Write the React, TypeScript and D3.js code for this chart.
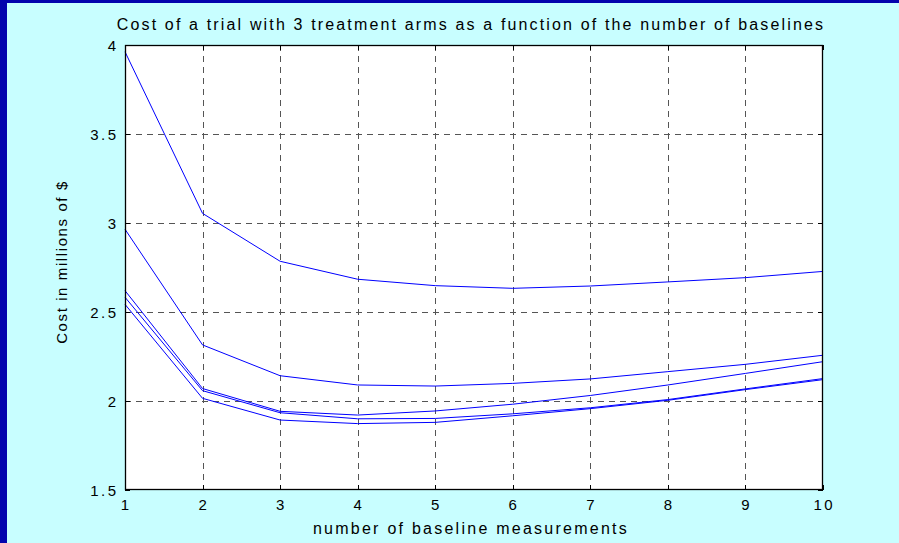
import React from "react";
import * as d3 from "d3";

const W = 899;
const H = 543;

const baselines = [1, 2, 3, 4, 5, 6, 7, 8, 9, 10];
const series1 = [3.962, 3.054, 2.785, 2.684, 2.648, 2.633, 2.646, 2.669, 2.693, 2.728];
const series2 = [2.965, 2.315, 2.142, 2.09, 2.084, 2.099, 2.124, 2.165, 2.206, 2.257];
const series3 = [2.62, 2.07, 1.942, 1.921, 1.944, 1.982, 2.031, 2.09, 2.155, 2.221];
const series4 = [2.583, 2.058, 1.934, 1.9, 1.902, 1.928, 1.962, 2.008, 2.068, 2.126];
const series5 = [2.543, 2.015, 1.893, 1.873, 1.88, 1.917, 1.957, 2.004, 2.064, 2.12];
const allSeries = [series1, series2, series3, series4, series5];

const xTicks = [1, 2, 3, 4, 5, 6, 7, 8, 9, 10];
const yTicks = [1.5, 2, 2.5, 3, 3.5, 4];
const yTickLabels = ["1.5", "2", "2.5", "3", "3.5", "4"];

const title = "Cost of a trial with 3 treatment arms as a function of the number of baselines";
const xLabel = "number of baseline measurements";
const yLabel = "Cost in millions of $";

const FONT = "'Liberation Sans', Arial, Helvetica, sans-serif";

export default function App() {
  const left = 125, right = 823, top = 45, bottom = 490;
  const x = d3.scaleLinear().domain([1, 10]).range([left, right]);
  const y = d3.scaleLinear().domain([1.5, 4]).range([bottom, top]);
  const line = d3
    .line<number>()
    .x((_, i) => x(baselines[i]))
    .y((d) => y(d));
  const tickLen = 5;
  const tickSp = 2.5;

  return (
    <div style={{ position: "absolute", left: 0, top: 0 }}>
      <svg width={W} height={H} style={{ display: "block" }}>
        <rect x={0} y={0} width={W} height={H} fill="#0303AD" />
        <rect x={7} y={3} width={W - 7} height={H - 3} fill="#C8FEFF" />
        <rect x={left} y={top} width={right - left} height={bottom - top} fill="#FFFFFF" />
        {/* grid */}
        {xTicks.slice(1, -1).map((t) => (
          <line
            key={"gx" + t}
            x1={Math.round(x(t)) + 0.5}
            x2={Math.round(x(t)) + 0.5}
            y1={top}
            y2={bottom}
            stroke="#555"
            strokeDasharray="6,5"
          />
        ))}
        {yTicks.slice(1, -1).map((t) => (
          <line
            key={"gy" + t}
            x1={left}
            x2={right}
            y1={Math.round(y(t)) + 0.5}
            y2={Math.round(y(t)) + 0.5}
            stroke="#555"
            strokeDasharray="6,5"
          />
        ))}
        {/* ticks */}
        {xTicks.map((t) => (
          <g key={"tx" + t} stroke="#000">
            <line x1={Math.round(x(t)) + 0.5} x2={Math.round(x(t)) + 0.5} y1={bottom} y2={bottom - tickLen} />
            <line x1={Math.round(x(t)) + 0.5} x2={Math.round(x(t)) + 0.5} y1={top} y2={top + tickLen} />
          </g>
        ))}
        {yTicks.map((t) => (
          <g key={"ty" + t} stroke="#000">
            <line x1={left} x2={left + tickLen} y1={Math.round(y(t)) + 0.5} y2={Math.round(y(t)) + 0.5} />
            <line x1={right} x2={right - tickLen} y1={Math.round(y(t)) + 0.5} y2={Math.round(y(t)) + 0.5} />
          </g>
        ))}
        {/* data lines */}
        {allSeries.map((s, i) => (
          <path key={"s" + i} d={line(s) || ""} fill="none" stroke="#0000FF" strokeWidth={1} />
        ))}
        {/* frame */}
        <rect
          x={left + 0.5}
          y={top + 0.5}
          width={right - left - 1}
          height={bottom - top - 1}
          fill="none"
          stroke="#000"
          strokeWidth={1.3}
        />
        {/* tick labels */}
        {xTicks.map((t) => (
          <text
            key={"lx" + t}
            x={x(t) + tickSp / 2}
            y={510}
            textAnchor="middle"
            fontFamily={FONT}
            fontSize={15}
            letterSpacing={tickSp}
            fill="#000"
          >
            {t}
          </text>
        ))}
        {yTicks.map((t, i) => (
          <text
            key={"ly" + t}
            x={116 + tickSp}
            y={y(t) + 5.5}
            textAnchor="end"
            fontFamily={FONT}
            fontSize={15}
            letterSpacing={tickSp}
            fill="#000"
          >
            {yTickLabels[i]}
          </text>
        ))}
        <text
          x={471}
          y={30}
          textAnchor="middle"
          fontFamily={FONT}
          fontSize={16}
          letterSpacing={2.15}
          fill="#000"
        >
          {title}
        </text>
        <text
          x={471}
          y={534}
          textAnchor="middle"
          fontFamily={FONT}
          fontSize={16}
          letterSpacing={2.25}
          fill="#000"
        >
          {xLabel}
        </text>
        <text
          transform={`translate(67, 262) rotate(-90)`}
          textAnchor="middle"
          fontFamily={FONT}
          fontSize={15}
          letterSpacing={1.6}
          fill="#000"
        >
          {yLabel}
        </text>
      </svg>
    </div>
  );
}
